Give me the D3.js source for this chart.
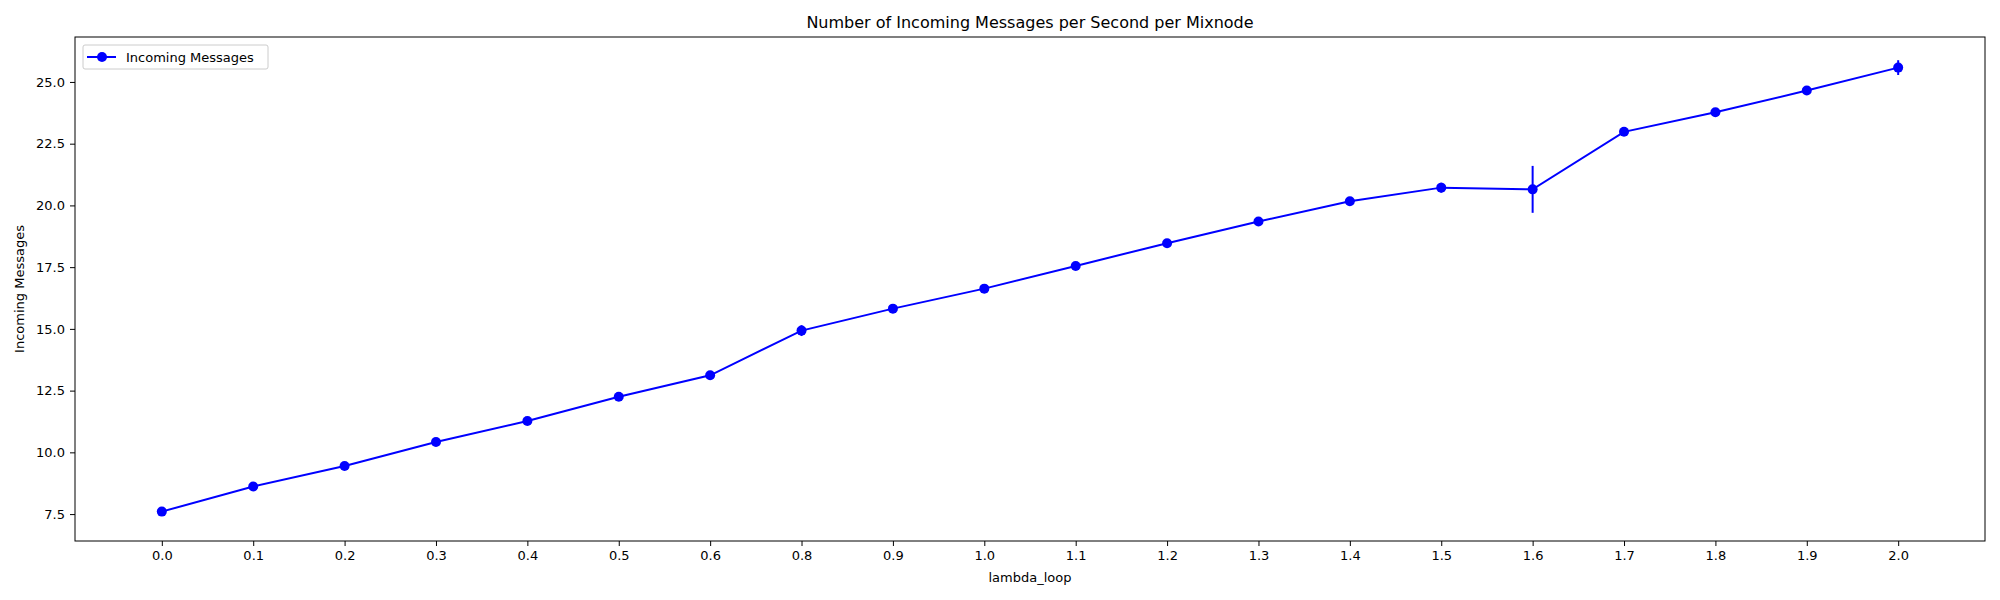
<!DOCTYPE html>
<html>
<head>
<meta charset="utf-8">
<script src="https://cdn.jsdelivr.net/npm/d3@7"></script>
<style>
  body { margin: 0; background: #fff; }
  text { font-family: "DejaVu Sans", sans-serif; }
</style>
</head>
<body>
<svg width="2000" height="600"></svg>
<script>
const lambdas = ["0.0","0.1","0.2","0.3","0.4","0.5","0.6","0.8","0.9","1.0","1.1","1.2","1.3","1.4","1.5","1.6","1.7","1.8","1.9","2.0"]
const incoming = [7.6, 8.62, 9.45, 10.42, 11.27, 12.25, 13.12, 14.93, 15.82, 16.63, 17.55, 18.47, 19.35, 20.17, 20.72, 20.65, 22.98, 23.77, 24.65, 25.58]
const errors = [0.1, 0.08, 0.08, 0.08, 0.1, 0.08, 0.08, 0.22, 0.08, 0.08, 0.08, 0.08, 0.08, 0.08, 0.2, 0.95, 0.1, 0.12, 0.15, 0.3]
const yTicks = [7.5, 10.0, 12.5, 15.0, 17.5, 20.0, 22.5, 25.0]

const width = 2000
const height = 600
const margin = {top: 37, right: 15, bottom: 59, left: 75}
const blue = "#0000ff"

const svg = d3.select("svg")

const x = d3.scalePoint()
    .domain(lambdas)
    .range([margin.left, width - margin.right])
    .padding(0.95)

const y = d3.scaleLinear()
    .domain([6.41, 26.82])
    .range([height - margin.bottom, margin.top])

// axes
svg.append("g")
    .attr("transform", `translate(0,${height - margin.bottom})`)
    .call(d3.axisBottom(x).tickSizeOuter(0).tickSize(5).tickPadding(5))
    .call(g => g.select(".domain").remove())
    .call(g => g.selectAll("text").attr("font-size", 13).attr("fill", "#000").attr("font-family", "DejaVu Sans"))

svg.append("g")
    .attr("transform", `translate(${margin.left},0)`)
    .call(d3.axisLeft(y).tickValues(yTicks).tickFormat(d3.format(".1f")).tickSize(5).tickPadding(5))
    .call(g => g.select(".domain").remove())
    .call(g => g.selectAll("text").attr("font-size", 13).attr("fill", "#000").attr("font-family", "DejaVu Sans"))

svg.append("rect")
    .attr("x", margin.left).attr("y", margin.top)
    .attr("width", width - margin.left - margin.right)
    .attr("height", height - margin.top - margin.bottom)
    .attr("fill", "none").attr("stroke", "#000").attr("stroke-width", 1)

const data = lambdas.map((l, i) => ({l, v: incoming[i], e: errors[i]}))

// error bars
svg.append("g").selectAll("line")
    .data(data)
    .join("line")
    .attr("x1", d => x(d.l)).attr("x2", d => x(d.l))
    .attr("y1", d => y(d.v - d.e)).attr("y2", d => y(d.v + d.e))
    .attr("stroke", blue).attr("stroke-width", 2)

svg.append("path")
    .datum(data)
    .attr("fill", "none")
    .attr("stroke", blue)
    .attr("stroke-width", 2)
    .attr("d", d3.line().x(d => x(d.l)).y(d => y(d.v)))

svg.append("g").selectAll("circle")
    .data(data)
    .join("circle")
    .attr("cx", d => x(d.l)).attr("cy", d => y(d.v))
    .attr("r", 5).attr("fill", blue)

// titles
svg.append("text")
    .attr("x", (margin.left + width - margin.right) / 2).attr("y", 28)
    .attr("text-anchor", "middle").attr("font-size", 16)
    .text("Number of Incoming Messages per Second per Mixnode")

svg.append("text")
    .attr("x", (margin.left + width - margin.right) / 2).attr("y", 582)
    .attr("text-anchor", "middle").attr("font-size", 13)
    .text("lambda_loop")

svg.append("text")
    .attr("transform", `translate(24,${(margin.top + height - margin.bottom) / 2}) rotate(-90)`)
    .attr("text-anchor", "middle").attr("font-size", 13)
    .text("Incoming Messages")

// legend
const legend = svg.append("g").attr("transform", "translate(83,45)")
legend.append("rect")
    .attr("width", 185).attr("height", 24).attr("rx", 2)
    .attr("fill", "#fff").attr("stroke", "#ccc")
legend.append("line")
    .attr("x1", 4).attr("x2", 33).attr("y1", 12).attr("y2", 12)
    .attr("stroke", blue).attr("stroke-width", 2)
legend.append("circle").attr("cx", 19).attr("cy", 12).attr("r", 5).attr("fill", blue)
legend.append("text")
    .attr("x", 43).attr("y", 12).attr("dy", "0.35em").attr("font-size", 13)
    .text("Incoming Messages")
</script>
</body>
</html>
